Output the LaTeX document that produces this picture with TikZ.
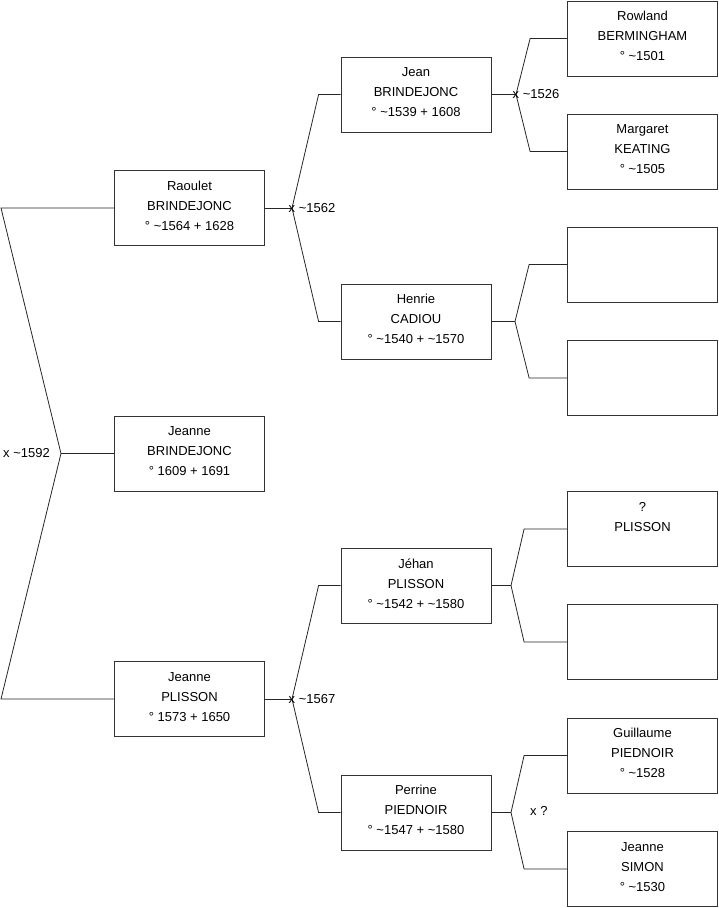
\documentclass[tikz,border=0pt]{standalone}
\usepackage{fontspec}
\setmainfont{Liberation Sans}
\usepackage{tikz}
\usetikzlibrary{positioning}
\newcommand{\abt}{\textasciitilde}

\begin{document}
\begin{tikzpicture}[x=1pt, y=-1pt,
      person/.style={draw=black!80, line width=0.8pt, minimum width=150pt, minimum height=75pt,
                     inner sep=0pt, align=center, text depth=4.5pt, font=\fontsize{13}{20}\selectfont},
      link/.style={black!85, line width=0.8pt},
      wed/.style={inner sep=0pt, font=\fontsize{13}{14}\selectfont}
    ]
      \useasboundingbox (0,0) rectangle (719,908);
      % generation 1
      \node[person] (jeanne) at (189.5,453.5) {Jeanne\\BRINDEJONC\\° 1609 + 1691};
      % generation 2
      \node[person] (raoulet) at (189.5,208) {Raoulet\\BRINDEJONC\\° \abt1564 + 1628};
      \node[person] (jeannep) at (189.5,699) {Jeanne\\PLISSON\\° 1573 + 1650};
      % generation 3
      \node[person] (jean) at (416,94.5) {Jean\\BRINDEJONC\\° \abt1539 + 1608};
      \node[person] (henrie) at (416,321.5) {Henrie\\CADIOU\\° \abt1540 + \abt1570};
      \node[person] (jehan) at (416,585.5) {Jéhan\\PLISSON\\° \abt1542 + \abt1580};
      \node[person] (perrine) at (416,812.5) {Perrine\\PIEDNOIR\\° \abt1547 + \abt1580};
      % generation 4
      \node[person] (rowland) at (642.5,38.5) {Rowland\\BERMINGHAM\\° \abt1501};
      \node[person] (margaret) at (642.5,151.5) {Margaret\\KEATING\\° \abt1505};
      \node[person] (empty1) at (642.5,264.5) {};
      \node[person] (empty2) at (642.5,378) {};
      \node[person] (plisson) at (642.5,529) {?\\PLISSON\\\strut};
      \node[person] (empty3) at (642.5,642) {};
      \node[person] (guillaume) at (642.5,755.5) {Guillaume\\PIEDNOIR\\° \abt1528};
      \node[person] (simon) at (642.5,869) {Jeanne\\SIMON\\° \abt1530};

      % couples
      \coordinate (c0) at (61,453.5);
      \coordinate (c1) at (292,208);
      \coordinate (c2) at (292,699);
      \coordinate (c3) at (516,94.5);
      \coordinate (c4) at (515,321.5);
      \coordinate (c5) at (511,585.5);
      \coordinate (c6) at (511,812.5);

      \draw[link] (jeanne.west) -- (c0);
      \draw[link] (c0) -- (1,208) -- (raoulet.west);
      \draw[link] (c0) -- (1,699) -- (jeannep.west);

      \draw[link] (raoulet.east) -- (c1);
      \draw[link] (c1) -- ([xshift=-22pt]jean.west) -- (jean.west);
      \draw[link] (c1) -- ([xshift=-22pt]henrie.west) -- (henrie.west);
      \draw[link] (jeannep.east) -- (c2);
      \draw[link] (c2) -- ([xshift=-22pt]jehan.west) -- (jehan.west);
      \draw[link] (c2) -- ([xshift=-22pt]perrine.west) -- (perrine.west);

      \draw[link] (jean.east) -- (c3);
      \draw[link] (c3) -- ([xshift=-37pt]rowland.west) -- (rowland.west);
      \draw[link] (c3) -- ([xshift=-37pt]margaret.west) -- (margaret.west);
      \draw[link] (henrie.east) -- (c4);
      \draw[link] (c4) -- ([xshift=-38pt]empty1.west) -- (empty1.west);
      \draw[link] (c4) -- ([xshift=-38pt]empty2.west) -- (empty2.west);
      \draw[link] (jehan.east) -- (c5);
      \draw[link] (c5) -- ([xshift=-43pt]plisson.west) -- (plisson.west);
      \draw[link] (c5) -- ([xshift=-43pt]empty3.west) -- (empty3.west);
      \draw[link] (perrine.east) -- (c6);
      \draw[link] (c6) -- ([xshift=-43pt]guillaume.west) -- (guillaume.west);
      \draw[link] (c6) -- ([xshift=-43pt]simon.west) -- (simon.west);

      % marriages
      \node[wed, anchor=east] (m0) at (50,453.5) {x \abt1592};
      \node[wed, anchor=west] (m1) at (288.5,208) {x \abt1562};
      \node[wed, anchor=west] (m2) at (288.5,699) {x \abt1567};
      \node[wed, anchor=west] (m3) at (512.5,94) {x \abt1526};
      \node[wed, anchor=west] (m6) at (530,811) {x ?};
    \end{tikzpicture}
\end{document}
